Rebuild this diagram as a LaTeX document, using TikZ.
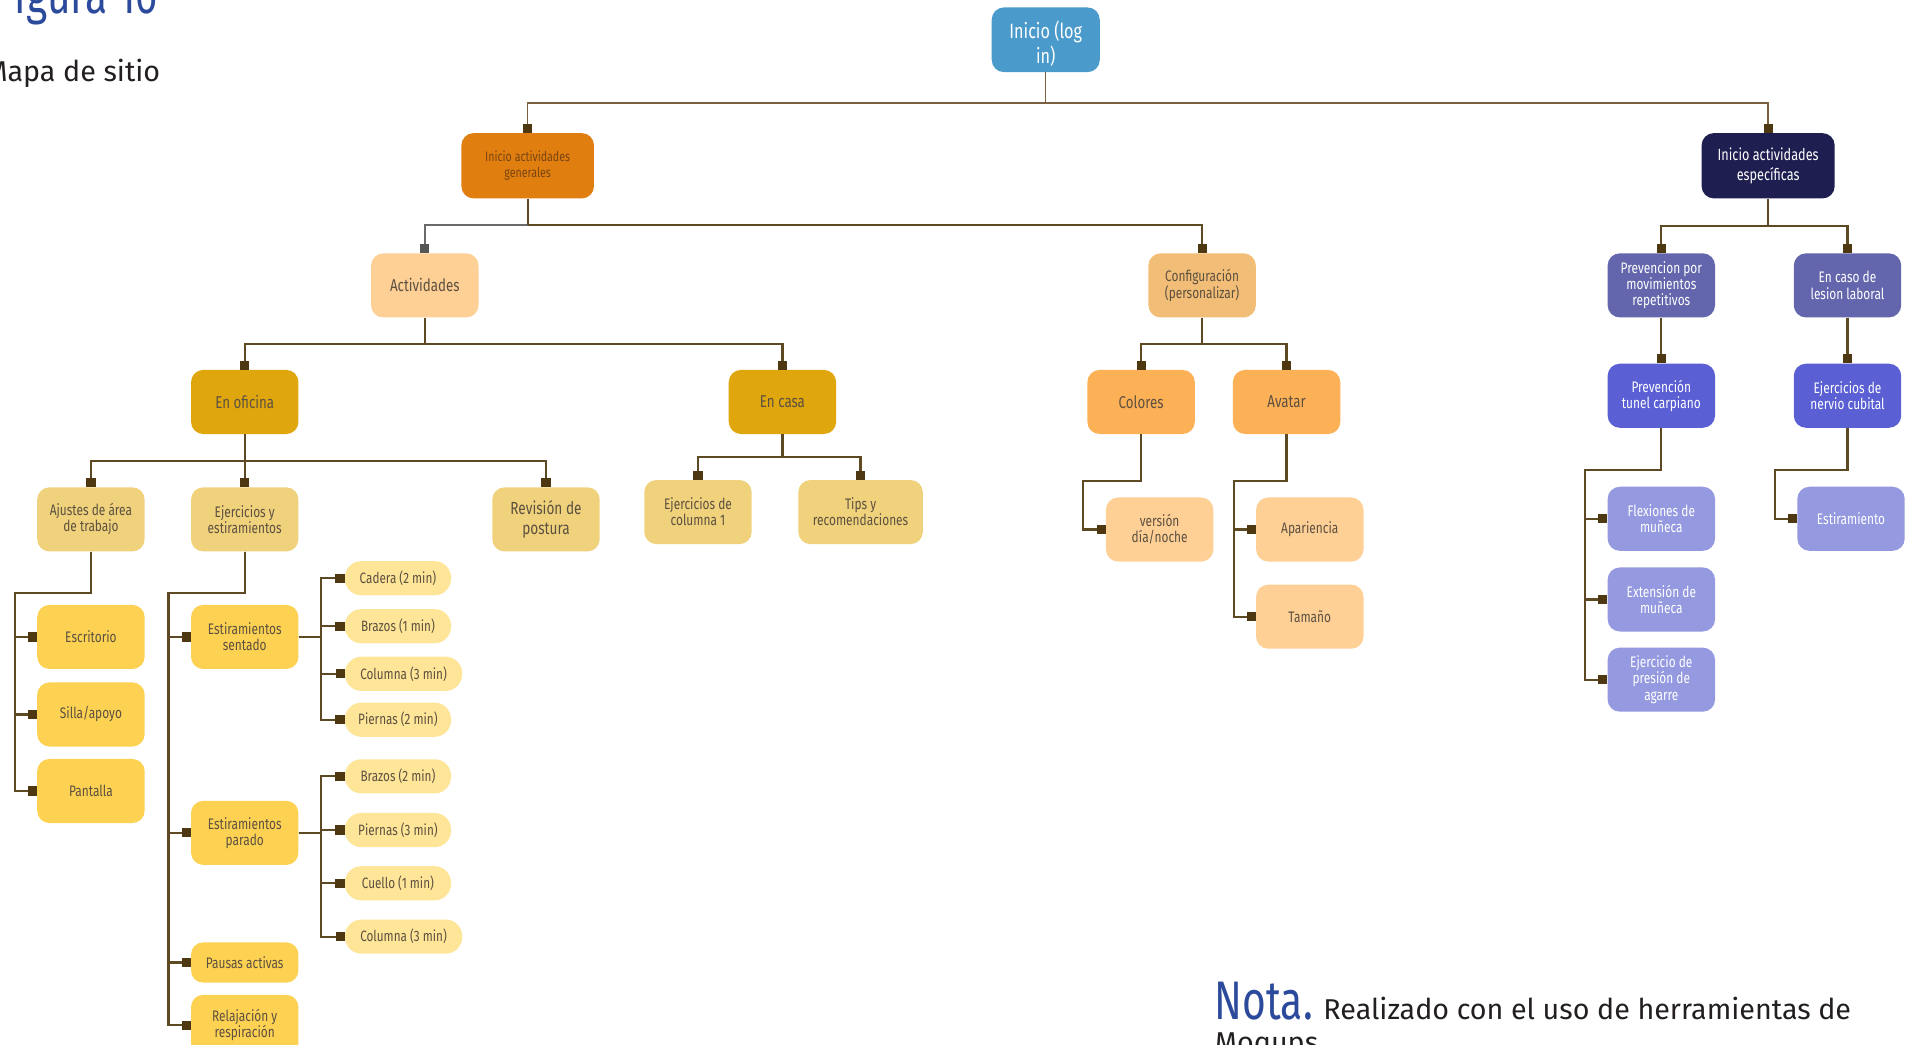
\documentclass[tikz,border=0pt]{standalone}
\usepackage{fontspec}
\setmainfont{Fira Sans}
\newfontfamily\boxfont[FakeStretch=0.78]{Fira Sans}
\newfontfamily\headfont[FakeStretch=0.75]{Fira Sans}
\usetikzlibrary{arrows.meta}

\definecolor{linkbrown}{HTML}{5E4A22}
\definecolor{toplinkc}{HTML}{7A6040}
\definecolor{markbrown}{HTML}{4E3812}
\definecolor{graylink}{HTML}{6A6A6A}
\definecolor{graymark}{HTML}{555555}
\definecolor{rootblue}{HTML}{4A9BCB}
\definecolor{genorange}{HTML}{E07F10}
\definecolor{espnavy}{HTML}{1E1F50}
\definecolor{peach}{HTML}{FED096}
\definecolor{confpeach}{HTML}{F2BD76}
\definecolor{mustard}{HTML}{DFA70D}
\definecolor{orangelight}{HTML}{FDB156}
\definecolor{sand}{HTML}{F0D27C}
\definecolor{yellowbox}{HTML}{FDD253}
\definecolor{pillyellow}{HTML}{FEE598}
\definecolor{slatepurple}{HTML}{6366AC}
\definecolor{bluepurple}{HTML}{5A5FD3}
\definecolor{lavender}{HTML}{9499E0}
\definecolor{cardtext}{HTML}{5C5040}
\definecolor{gentext}{HTML}{7A4412}
\definecolor{titleblue}{HTML}{2B4A9B}
\definecolor{bodyblack}{HTML}{231F20}

\tikzset{
  card/.style={rounded corners=10pt, minimum width=88pt, minimum height=52.5pt,
    align=center, inner sep=1pt, text=cardtext,
    font=\boxfont\fontsize{12.5}{13.2}\selectfont},
  bigcard/.style={card, font=\boxfont\fontsize{14}{16}\selectfont},
  pill/.style={rounded corners=13.5pt, minimum width=87pt, minimum height=28pt,
    inner sep=1pt, text=cardtext, font=\boxfont\fontsize{12.3}{13}\selectfont},
  link/.style={draw=linkbrown, line width=1.8pt,
    -{Square[length=7.5pt,width=7.5pt,color=markbrown]}},
  plainlink/.style={draw=linkbrown, line width=1.8pt},
  rootlink/.style={draw=toplinkc, line width=1.2pt,
    -{Square[length=7.5pt,width=7.5pt,color=markbrown]}},
  greylink/.style={draw=graylink, line width=1.8pt,
    -{Square[length=7.5pt,width=7.5pt,color=graymark]}},
  heading/.style={anchor=base west, inner sep=0, text=titleblue,
    font=\headfont\fontsize{44.5}{50}\selectfont},
  bodytext/.style={anchor=base west, inner sep=0, text=bodyblack,
    font=\fontsize{23.5}{27}\selectfont},
}

\begin{document}
\begin{tikzpicture}[x=1pt,y=-1pt]
\useasboundingbox (0,0) rectangle (1568,856);
\clip (0,0) rectangle (1568,856);
\fill[white] (0,0) rectangle (1568,856);

% headings (the page edge trims their first letters)
\begin{scope}
  \clip (11,-30) rectangle (300,40);
  \node[heading] (fig) at (12,11) {\llap{F}igura 16};
\end{scope}
\node[bodytext] (sub) at (6,67) {\llap{M}apa de sitio};

% level 0 and 1
\node[card, fill=rootblue, minimum width=88.5pt, minimum height=53pt] (root) at (856.7,32.6) {};
\node[align=center, inner sep=0, text=white,
  font=\boxfont\fontsize{17}{20}\selectfont] (rootlabel) at (856.7,36) {Inicio (log\\in)};
\node[card, fill=genorange, text=gentext, minimum width=108.6pt, minimum height=53.5pt,
  font=\boxfont\fontsize{11.2}{13}\selectfont] (gen) at (432.3,135.8) {Inicio actividades\\generales};
\node[card, fill=espnavy, text=white, minimum width=109pt, minimum height=53.5pt,
  font=\boxfont\fontsize{13.3}{15.8}\selectfont] (esp) at (1448.5,135.8) {Inicio actividades\\específicas};

% general branch
\node[bigcard, fill=peach] (act) at (348,233.8) {Actividades};
\node[card, fill=confpeach] (conf) at (984.8,233.8) {Configuración\\(personalizar)};
\node[bigcard, fill=mustard] (ofi) at (200.5,329.3) {En oficina};
\node[bigcard, fill=mustard] (casa) at (641,329.3) {En casa};
\node[bigcard, fill=orangelight] (col) at (934.8,329.3) {Colores};
\node[bigcard, fill=orangelight] (ava) at (1054,329.3) {Avatar};

\node[card, fill=sand] (aju) at (74.5,425.5) {Ajustes de área\\de trabajo};
\node[card, fill=sand] (eje) at (200.5,425.5) {Ejercicios y\\estiramientos};
\node[card, fill=sand, font=\boxfont\fontsize{14.3}{16}\selectfont] (rev) at (447.3,425.5) {Revisión de\\postura};
\node[card, fill=sand] (colu) at (571.8,419.5) {Ejercicios de\\columna 1};
\node[card, fill=sand, minimum width=102pt] (tips) at (705,419.5) {Tips y\\recomendaciones};

\node[card, fill=peach] (ver) at (950,433.8) {versión\\día/noche};
\node[card, fill=peach] (apa) at (1073,433.8) {Apariencia};
\node[card, fill=peach] (tam) at (1073,505.2) {Tamaño};

\node[card, fill=yellowbox] (esc) at (74.5,521.8) {Escritorio};
\node[card, fill=yellowbox] (sil) at (74.5,585.3) {Silla/apoyo};
\node[card, fill=yellowbox] (pan) at (74.5,648) {Pantalla};

\node[card, fill=yellowbox] (sen) at (200.5,521.8) {Estiramientos\\sentado};
\node[card, fill=yellowbox] (par) at (200.5,682.3) {Estiramientos\\parado};
\node[card, fill=yellowbox, minimum height=33pt] (pau) at (200.5,788.5) {Pausas activas};
\node[card, fill=yellowbox, minimum height=50pt] (rel) at (200.5,840) {Relajación y\\respiración};

\node[pill, fill=pillyellow] (cad) at (326,473.7) {Cadera (2 min)};
\node[pill, fill=pillyellow] (bra1) at (326,513) {Brazos (1 min)};
\node[pill, fill=pillyellow, minimum width=96pt] (colm1) at (330.6,552) {Columna (3 min)};
\node[pill, fill=pillyellow] (pie2) at (326,589.6) {Piernas (2 min)};
\node[pill, fill=pillyellow] (bra2) at (326,636) {Brazos (2 min)};
\node[pill, fill=pillyellow] (pie3) at (326,680) {Piernas (3 min)};
\node[pill, fill=pillyellow] (cue) at (326,723.6) {Cuello (1 min)};
\node[pill, fill=pillyellow, minimum width=96pt] (colm2) at (330.6,767.3) {Columna (3 min)};

% specific branch
\node[card, fill=slatepurple, text=white] (prev) at (1361,233.8) {Prevencion por\\movimientos\\repetitivos};
\node[card, fill=slatepurple, text=white] (les) at (1513.5,233.8) {En caso de\\lesion laboral};
\node[card, fill=bluepurple, text=white] (tun) at (1361,324.2) {Prevención\\tunel carpiano};
\node[card, fill=bluepurple, text=white] (ner) at (1513.5,324.2) {Ejercicios de\\nervio cubital};
\node[card, fill=lavender, text=white] (flex) at (1361,425) {Flexiones de\\muñeca};
\node[card, fill=lavender, text=white] (ext) at (1361,491.1) {Extensión de\\muñeca};
\node[card, fill=lavender, text=white] (pres) at (1361,556.8) {Ejercicio de\\presión de\\agarre};
\node[card, fill=lavender, text=white] (estm) at (1516.4,425) {Estiramiento};

% connectors from the root
\draw[rootlink] (root.south) -- (root.south |- 0,84.5) -| (gen.north);
\draw[rootlink] (root.south) -- (root.south |- 0,84.5) -| (esp.north);

% general activities
\draw[link] (gen.south) -- (gen.south |- 0,184.5) -| (conf.north);
\draw[greylink] (gen.south |- 0,184.5) -| (act.north);
\draw[plainlink] (gen.south) -- (gen.south |- 0,184.5);

\draw[link] (act.south) -- (act.south |- 0,281.5) -| (ofi.north);
\draw[link] (act.south) -- (act.south |- 0,281.5) -| (casa.north);
\draw[link] (conf.south) -- (conf.south |- 0,281.5) -| (col.north);
\draw[link] (conf.south) -- (conf.south |- 0,281.5) -| (ava.north);

\draw[link] (ofi.south) -- (ofi.south |- 0,377.5) -| (aju.north);
\draw[link] (ofi.south) -- (eje.north);
\draw[link] (ofi.south) -- (ofi.south |- 0,377.5) -| (rev.north);

\draw[link] (casa.south) -- (casa.south |- 0,374.5) -| (colu.north);
\draw[link] (casa.south) -- (casa.south |- 0,374.5) -| (tips.north);

\draw[link] (col.south) -- (col.south |- 0,394) -- (887,394) |- (ver.west);
\draw[link] (ava.south) -- (ava.south |- 0,394) -- (1011,394) |- (apa.west);
\draw[link] (ava.south) -- (ava.south |- 0,394) -- (1011,394) |- (tam.west);

\foreach \c in {esc,sil,pan}
  \draw[link] (aju.south) -- (aju.south |- 0,486) -- (12.4,486) |- (\c.west);
\foreach \c in {sen,par,pau,rel}
  \draw[link] (eje.south) -- (eje.south |- 0,486) -- (138,486) |- (\c.west);

\foreach \c in {cad,bra1,colm1,pie2}
  \draw[link] (sen.east) -- (sen.east -| 263,0) |- (\c.west);
\foreach \c in {bra2,pie3,cue,colm2}
  \draw[link] (par.east) -- (par.east -| 263,0) |- (\c.west);

% specific activities
\draw[link] (esp.south) -- (esp.south |- 0,185) -| (prev.north);
\draw[link] (esp.south) -- (esp.south |- 0,185) -| (les.north);
\draw[link] (prev.south) -- (tun.north);
\draw[link] (les.south) -- (ner.north);
\foreach \c in {flex,ext,pres}
  \draw[link] (tun.south) -- (tun.south |- 0,385) -- (1298.5,385) |- (\c.west);
\draw[link] (ner.south) -- (ner.south |- 0,385) -- (1454,385) |- (estm.west);

% note
\node[heading] (nota) at (995,835.6) {Nota.};
\node[bodytext] (notatext) at (1084,835.6) {Realizado con el uso de herramientas de};
\node[bodytext] (notatext2) at (995,862) {Moqups};
\end{tikzpicture}
\end{document}
